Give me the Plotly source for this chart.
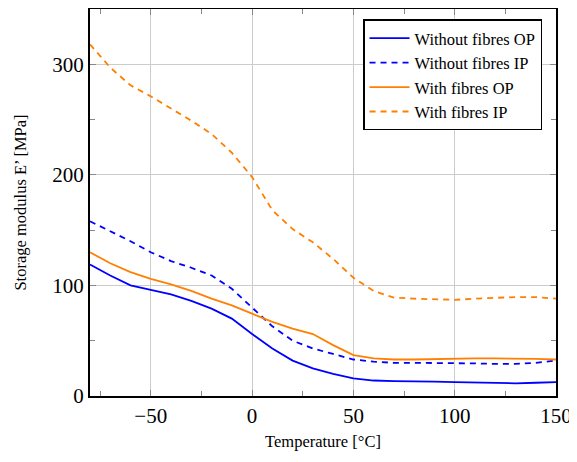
import plotly.graph_objects as go

temperature = [-80, -70, -60, -50, -40, -30, -20, -10, 0, 10, 20, 30, 40, 50,
               60, 70, 80, 90, 100, 110, 120, 130, 140, 150]

without_op = [119, 109, 100, 96, 92, 86, 79, 70, 56, 43, 32, 25, 20, 16,
              14, 13.5, 13.5, 13, 12.5, 12, 11.5, 11.5, 12, 12.5]
without_ip = [158, 149, 140, 130, 122, 116, 109, 97, 80, 63, 50, 43, 38, 33,
              31, 30, 30, 30, 30, 29.5, 29, 29, 30, 32]
with_op = [130, 120, 112, 106, 101, 95, 88, 82, 74.5, 67, 61, 56, 46, 37,
           34, 33, 33, 33.5, 34, 34, 34, 34, 33.5, 33]
with_ip = [318, 297, 281, 271, 260, 249, 237, 220, 198, 168, 151, 139, 124, 107,
           95, 89, 88, 87.5, 87, 88, 89, 89.5, 89.5, 88]

series_names = ["Without fibres OP", "Without fibres IP", "With fibres OP", "With fibres IP"]
x_ticks = [-50, 0, 50, 100, 150]
y_ticks = [0, 100, 200, 300]

BLUE = "#0000ff"
ORANGE = "#ff8000"
DASH = "6px,5px"

fig = go.Figure()
for name, ys, color, dash in [
    (series_names[0], without_op, BLUE, "solid"),
    (series_names[1], without_ip, BLUE, DASH),
    (series_names[2], with_op, ORANGE, "solid"),
    (series_names[3], with_ip, ORANGE, DASH),
]:
    fig.add_trace(go.Scatter(x=temperature, y=ys, mode="lines", name=name,
                             line=dict(color=color, width=1.8, dash=dash)))

font_family = "Liberation Serif"
axis_common = dict(
    showline=True, linecolor="black", linewidth=2, mirror="allticks",
    ticks="inside", ticklen=6, tickcolor="#888888", tickwidth=1,
    showgrid=True, gridcolor="#cccccc", gridwidth=1,
    zeroline=False,
    tickfont=dict(family=font_family, size=21, color="black"),
)

fig.update_xaxes(
    range=[-80, 150], tickvals=x_ticks,
    minor=dict(ticks="inside", dtick=25, tick0=0, ticklen=5, tickcolor="#888888", showgrid=False),
    title=dict(text="Temperature [°C]", font=dict(family=font_family, size=16.5, color="black"), standoff=8),
    **axis_common,
)
fig.update_yaxes(
    range=[0, 350], tickvals=y_ticks,
    minor=dict(ticks="inside", dtick=50, tick0=0, ticklen=5, tickcolor="#888888", showgrid=False),
    title=dict(text="Storage modulus E’ [MPa]", font=dict(family=font_family, size=16.5, color="black"), standoff=22),
    **axis_common,
)

fig.update_layout(
    width=569, height=454,
    margin=dict(l=82, r=21, t=1, b=66, autoexpand=False),
    plot_bgcolor="white", paper_bgcolor="white",
    font=dict(family=font_family, color="black"),
    legend=dict(
        x=0.97, y=0.973, xanchor="right", yanchor="top",
        bgcolor="white", bordercolor="black", borderwidth=1.5,
        font=dict(family=font_family, size=16.5, color="black"),
        tracegroupgap=0, itemwidth=40,
    ),
    showlegend=True,
)

fig.write_html("out.html")
